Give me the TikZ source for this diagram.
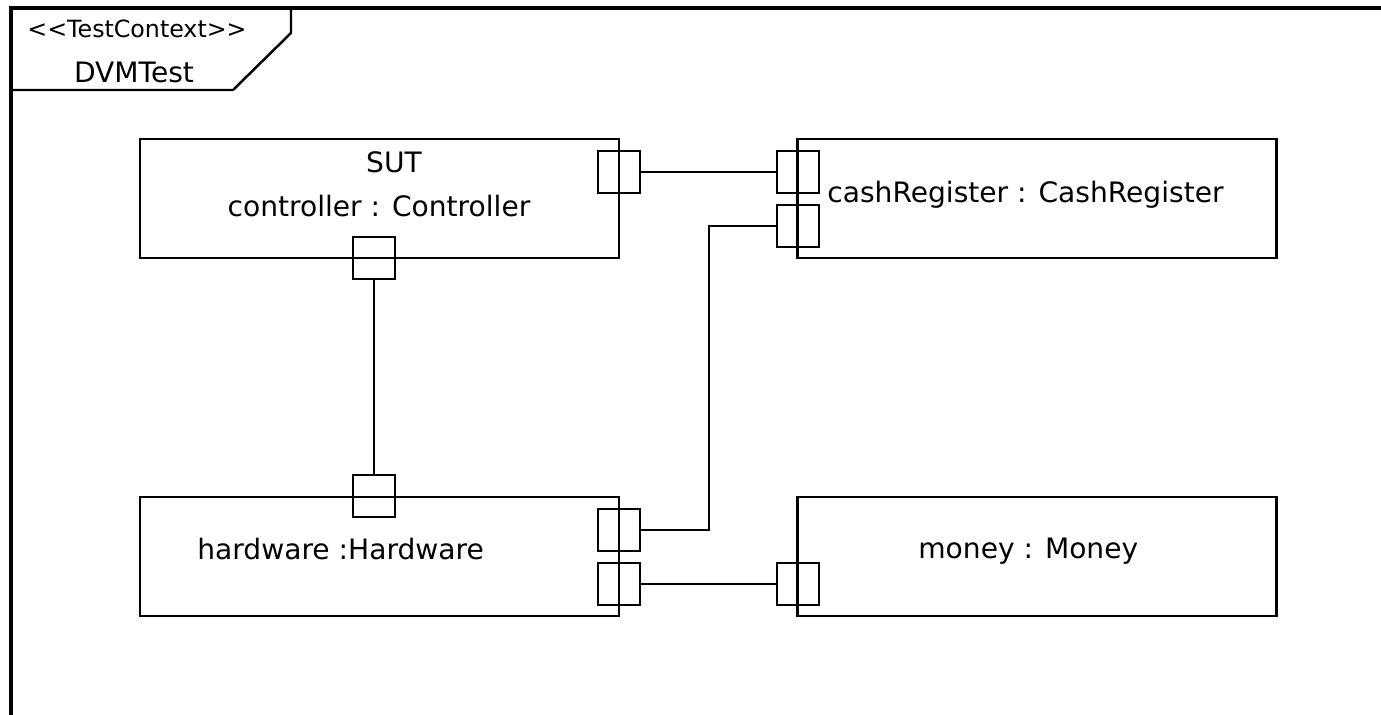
\documentclass[tikz,border=0pt]{standalone}
\usepackage{fontspec}
\setmainfont{DejaVu Sans}
\usetikzlibrary{positioning}

\begin{document}
\begin{tikzpicture}[x=0.02cm, y=-0.02cm, every node/.style={font=\fontsize{16}{19}\selectfont}]
  \tikzset{
    part/.style={rectangle, draw, line width=1.4pt, minimum width=9.58cm, minimum height=2.38cm, inner sep=0pt},
    port/.style={rectangle, draw, line width=1.4pt, minimum size=0.84cm, inner sep=0pt},
    conn/.style={line width=1.4pt},
    frameline/.style={line width=2pt},
    lbl/.style={inner sep=0pt}
  }
  \useasboundingbox (0,0) rectangle (1381,715);

  % test context frame
  \draw[frameline] (11,715) -- (11,8) -- (1381,8);
  \draw[conn] (11,90) -- (233,90) -- (291,33) -- (291,8);
  \node[lbl, anchor=base, font=\fontsize{13.5}{15}\selectfont] (stereo) at (137,38) {<{}<TestContext>{}>};
  \node[lbl, anchor=base] (ctxname) at (134,83) {DVMTest};

  % parts
  \node[part] (controller) at (379.5,198.5) {};
  \node[part] (cash) at (1037,198.5) {};
  \node[part] (hardware) at (379.5,556.5) {};
  \node[part] (money) at (1037,556.5) {};

  \node[lbl, anchor=base] (sut) at (394,173) {SUT};
  \node[lbl, anchor=base] (ctrlname) at (379,217) {controller : Controller};
  \node[lbl, anchor=base west] (cashname) at (827,203) {cashRegister : CashRegister};
  \node[lbl, anchor=base west] (hwname) at (197,559) {hardware :Hardware};
  \node[lbl, anchor=base west] (moneyname) at (918,558) {money : Money};

  % ports
  \node[port] (ctr) at (619,172) {};
  \node[port] (ctb) at (374,258) {};
  \node[port] (hwt) at (374,496) {};
  \node[port] (hwa) at (619,530) {};
  \node[port] (hwb) at (619,584) {};
  \node[port] (cra) at (798,172) {};
  \node[port] (crb) at (798,226) {};
  \node[port] (mna) at (798,584) {};

  % connectors
  \coordinate (bend) at (709,530);
  \draw[conn] (ctr.east) -- (cra.west);
  \draw[conn] (ctb.south) -- (hwt.north);
  \draw[conn] (hwa.east) -- (bend) |- (crb.west);
  \draw[conn] (hwb.east) -- (mna.west);
\end{tikzpicture}
\end{document}
